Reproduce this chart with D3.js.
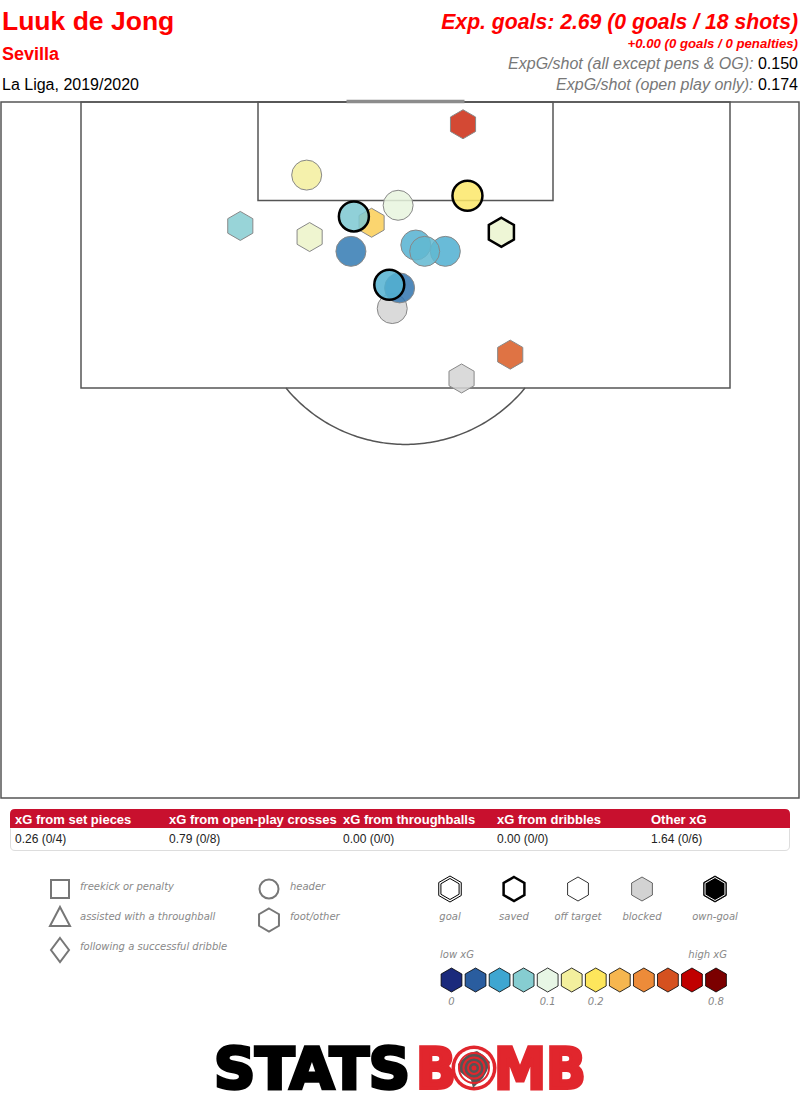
<!DOCTYPE html>
<html>
<head>
<meta charset="utf-8">
<script src="https://cdn.jsdelivr.net/npm/d3@7"></script>
<style>
  body { margin: 0; background: #fff; }
  svg { display: block; }
  .hdr { font-family: "Liberation Sans", Arial, sans-serif; }
  .lg { font-family: "DejaVu Sans", Verdana, sans-serif; font-style: italic; fill: #888; font-size: 10px; }
</style>
</head>
<body>
<svg id="chart" width="800" height="1110"></svg>
<script>
// shots, statsbomb yards (x = length toward goal at 120, y = width)
let shotX = [118.6, 115.4, 113.5, 112.2, 111.5, 112.4, 112.8, 114.1, 111.8, 110.6, 111.0, 110.6, 110.6, 107.0, 108.3, 108.5, 104.1, 102.6];
let shotY = [43.9, 33.3, 39.5, 28.8, 33.5, 37.7, 36.5, 44.2, 46.5, 36.3, 40.7, 42.7, 41.3, 39.1, 39.6, 38.9, 47.1, 43.8];
let shotXg = [0.62, 0.15, 0.105, 0.075, 0.12, 0.26, 0.072, 0.19, 0.115, 0.035, 0.058, 0.056, 0.062, 0.06, 0.033, 0.057, 0.54, 0.08];
let shotBody = ['foot', 'head', 'head', 'foot', 'foot', 'foot', 'head', 'head', 'foot', 'head', 'head', 'head', 'head', 'head', 'head', 'head', 'foot', 'foot'];
let shotOutcome = ['off', 'off', 'off', 'off', 'off', 'off', 'saved', 'saved', 'saved', 'off', 'off', 'off', 'off', 'blocked', 'off', 'saved', 'off', 'blocked'];

let xgStops = [0, 0.025, 0.05, 0.075, 0.1, 0.15, 0.2, 0.32, 0.44, 0.56, 0.68, 0.8];
let xgColors = ['#1b2a7c', '#2a5d9f', '#3ea6d1', '#86cdd1', '#e7f6e5', '#f3ef9d', '#fde65c', '#f6b64f', '#ed8b39', '#d5511f', '#c00000', '#7b0000'];
let tickIndex = [0, 4, 6, 11];
let tickLabel = ['0', '0.1', '0.2', '0.8'];

let tableHeads = ['xG from set pieces', 'xG from open-play crosses', 'xG from throughballs', 'xG from dribbles', 'Other xG'];
let tableValues = ['0.26 (0/4)', '0.79 (0/8)', '0.00 (0/0)', '0.00 (0/0)', '1.64 (0/6)'];

let outcomeNames = ['goal', 'saved', 'off target', 'blocked', 'own-goal'];
let shapeNames = ['freekick or penalty', 'assisted with a throughball', 'following a successful dribble', 'header', 'foot/other'];

let svg = d3.select('#chart');

let xS = d3.scaleLinear().domain([18, 62]).range([81, 730]);   // pitch width -> px
let yS = d3.scaleLinear().domain([120, 102]).range([102, 388]); // pitch length -> px
let color = d3.scaleLinear().domain(xgStops).range(xgColors).clamp(true);

let hexPath = function(cx, cy, r) {
  let pts = d3.range(6).map(function(i) {
    let a = Math.PI / 3 * i - Math.PI / 2;
    return [cx + r * Math.cos(a), cy + r * Math.sin(a)];
  });
  return 'M' + pts.join('L') + 'Z';
}

// ---- header
let hdr = svg.append('g').attr('class', 'hdr');
hdr.append('text').attr('x', 2).attr('y', 30).attr('fill', '#f00').attr('font-weight', 'bold').attr('font-size', 26.5).text('Luuk de Jong');
hdr.append('text').attr('x', 2).attr('y', 60).attr('fill', '#f00').attr('font-weight', 'bold').attr('font-size', 18).text('Sevilla');
hdr.append('text').attr('x', 2).attr('y', 90).attr('fill', '#000').attr('font-size', 16).text('La Liga, 2019/2020');
hdr.append('text').attr('x', 798).attr('y', 29).attr('text-anchor', 'end').attr('fill', '#f00').attr('font-weight', 'bold').attr('font-style', 'italic').attr('font-size', 21.2)
  .text('Exp. goals: 2.69 (0 goals / 18 shots)');
hdr.append('text').attr('x', 798).attr('y', 48).attr('text-anchor', 'end').attr('fill', '#f00').attr('font-weight', 'bold').attr('font-style', 'italic').attr('font-size', 13.2)
  .text('+0.00 (0 goals / 0 penalties)');
let l1 = hdr.append('text').attr('x', 798).attr('y', 69).attr('text-anchor', 'end').attr('font-size', 16);
l1.append('tspan').attr('fill', '#777').attr('font-style', 'italic').text('ExpG/shot (all except pens & OG): ');
l1.append('tspan').attr('fill', '#000').text('0.150');
let l2 = hdr.append('text').attr('x', 798).attr('y', 90).attr('text-anchor', 'end').attr('font-size', 16);
l2.append('tspan').attr('fill', '#777').attr('font-style', 'italic').text('ExpG/shot (open play only): ');
l2.append('tspan').attr('fill', '#000').text('0.174');

// ---- pitch
let pitch = svg.append('g').attr('fill', 'none').attr('stroke', '#555').attr('stroke-width', 1.5);
pitch.append('rect').attr('x', 1).attr('y', 102).attr('width', 798).attr('height', 696);
pitch.append('rect').attr('x', xS(18)).attr('y', yS(120)).attr('width', xS(62) - xS(18)).attr('height', yS(102) - yS(120));
pitch.append('rect').attr('x', xS(30)).attr('y', yS(120)).attr('width', xS(50) - xS(30)).attr('height', yS(113.8) - yS(120));
// D: only the part outside the box
let spot = 108.2, rx = 10.5, ry = 9.75;
let aMax = Math.acos((spot - 102) / ry);
let arcPts = d3.range(-aMax, aMax + 0.001, aMax / 50).map(function(a) {
  return [xS(40 + rx * Math.sin(a)), yS(spot - ry * Math.cos(a))];
});
pitch.append('path').attr('d', d3.line()(arcPts));
svg.append('line').attr('x1', xS(36)).attr('x2', xS(44)).attr('y1', yS(120) - 0.5).attr('y2', yS(120) - 0.5)
  .attr('stroke', '#8c8c8c').attr('stroke-width', 3.5);

// ---- shots
let shots = d3.range(shotX.length);
let sg = svg.append('g');
shots.forEach(function(i) {
  let cx = xS(shotY[i]), cy = yS(shotX[i]);
  let fill = shotOutcome[i] == 'blocked' ? '#d3d3d3' : color(shotXg[i]);
  let el;
  if (shotBody[i] == 'head') el = sg.append('circle').attr('cx', cx).attr('cy', cy).attr('r', 15);
  else el = sg.append('path').attr('d', hexPath(cx, cy, 14.5));
  el.attr('fill', fill).attr('fill-opacity', 0.85);
  if (shotOutcome[i] == 'saved') el.attr('stroke', '#000').attr('stroke-width', 2.5);
  else el.attr('stroke', '#888').attr('stroke-width', 1);
});

// ---- table
let colX = [15, 169, 343, 497, 651];
svg.append('path').attr('d', 'M10,828 V814 Q10,809 15,809 H785 Q790,809 790,814 V828 Z').attr('fill', '#c8102e');
svg.append('path').attr('d', 'M10.5,828.5 V846 Q10.5,850.5 15,850.5 H785 Q789.5,850.5 789.5,846 V828.5')
  .attr('fill', '#fff').attr('stroke', '#ddd').attr('stroke-width', 1);
let tbl = svg.append('g').attr('class', 'hdr');
tbl.selectAll('.th').data(tableHeads).join('text').attr('class', 'th')
  .attr('x', function(d, i) { return colX[i]; }).attr('y', 824)
  .attr('fill', '#fff').attr('font-weight', 'bold').attr('font-size', 13).text(function(d) { return d; });
tbl.selectAll('.td').data(tableValues).join('text').attr('class', 'td')
  .attr('x', function(d, i) { return colX[i]; }).attr('y', 843)
  .attr('fill', '#222').attr('font-size', 12).text(function(d) { return d; });

// ---- shape legend
let lg = svg.append('g');
let shp = lg.append('g').attr('fill', 'none').attr('stroke', '#777').attr('stroke-width', 2);
shp.append('rect').attr('x', 51).attr('y', 880).attr('width', 18).attr('height', 18);
shp.append('path').attr('d', 'M60,907 L70,926 L50,926 Z');
shp.append('path').attr('d', 'M60,938 L69,950 L60,962 L51,950 Z');
shp.append('circle').attr('cx', 269).attr('cy', 889).attr('r', 9.5);
shp.append('path').attr('d', hexPath(269, 920, 11.5));
let shapePos = [[80, 890], [80, 920], [80, 950], [290, 890], [290, 920]];
lg.selectAll('.sn').data(shapeNames).join('text').attr('class', 'lg sn')
  .attr('x', function(d, i) { return shapePos[i][0]; }).attr('y', function(d, i) { return shapePos[i][1]; })
  .text(function(d) { return d; });

// ---- outcome legend
let oX = [450, 514, 578, 642, 715];
let oc = lg.append('g');
oc.append('path').attr('d', hexPath(oX[0], 889, 13)).attr('fill', '#fff').attr('stroke', '#000').attr('stroke-width', 1);
oc.append('path').attr('d', hexPath(oX[0], 889, 10.5)).attr('fill', 'none').attr('stroke', '#000').attr('stroke-width', 1);
oc.append('path').attr('d', hexPath(oX[1], 889, 12)).attr('fill', '#fff').attr('stroke', '#000').attr('stroke-width', 2.5);
oc.append('path').attr('d', hexPath(oX[2], 889, 12)).attr('fill', '#fff').attr('stroke', '#000').attr('stroke-width', 0.8);
oc.append('path').attr('d', hexPath(oX[3], 889, 12)).attr('fill', '#d3d3d3').attr('stroke', '#444').attr('stroke-width', 0.8);
oc.append('path').attr('d', hexPath(oX[4], 889, 13)).attr('fill', '#000').attr('stroke', '#000').attr('stroke-width', 1);
oc.append('path').attr('d', hexPath(oX[4], 889, 11.5)).attr('fill', 'none').attr('stroke', '#fff').attr('stroke-width', 1);
lg.selectAll('.on').data(outcomeNames).join('text').attr('class', 'lg on')
  .attr('x', function(d, i) { return oX[i]; }).attr('y', 920).attr('text-anchor', 'middle')
  .text(function(d) { return d; });

// ---- xG colour legend
let cX = d3.scaleLinear().domain([0, xgColors.length - 1]).range([451.5, 716]);
lg.selectAll('.ch').data(xgColors).join('path').attr('class', 'ch')
  .attr('d', function(d, i) { return hexPath(cX(i), 980, 12); })
  .attr('fill', function(d) { return d; }).attr('stroke', '#000').attr('stroke-width', 0.8);
lg.append('text').attr('class', 'lg').attr('x', 440).attr('y', 958).text('low xG');
lg.append('text').attr('class', 'lg').attr('x', 727).attr('y', 958).attr('text-anchor', 'end').text('high xG');
lg.selectAll('.tk').data(tickIndex).join('text').attr('class', 'lg tk')
  .attr('x', function(d) { return cX(d); }).attr('y', 1005).attr('text-anchor', 'middle')
  .text(function(d, i) { return tickLabel[i]; });

// ---- logo
let logo = svg.append('g').attr('font-family', '"DejaVu Sans", sans-serif').attr('font-weight', 'bold').attr('font-size', 57);
logo.append('text').attr('x', 214).attr('y', 1089).attr('textLength', 196).attr('lengthAdjust', 'spacingAndGlyphs')
  .attr('fill', '#000').attr('stroke', '#000').attr('stroke-width', 3.5).text('STATS');
logo.append('text').attr('x', 416).attr('y', 1089).attr('textLength', 40).attr('lengthAdjust', 'spacingAndGlyphs')
  .attr('fill', '#e1262d').attr('stroke', '#e1262d').attr('stroke-width', 3.5).text('B');
logo.append('text').attr('x', 494).attr('y', 1089).attr('textLength', 92).attr('lengthAdjust', 'spacingAndGlyphs')
  .attr('fill', '#e1262d').attr('stroke', '#e1262d').attr('stroke-width', 3.5).text('MB');
let tg = logo.append('g').attr('transform', 'translate(474,1068)');
tg.append('circle').attr('r', 22.5).attr('fill', '#e1262d');
tg.append('circle').attr('r', 19).attr('fill', '#fff');
tg.append('path').attr('d', 'M-16,-4 L-10,-10 L-4,-15 L3,-17 L9,-13 L16,-6 L13,3 L9,10 L3,16 L-1,20 L-3,12 L-9,8 L-15,3 Z').attr('fill', '#555');
[15, 10.5, 6].forEach(function(r) {
  tg.append('circle').attr('r', r).attr('fill', 'none').attr('stroke', '#e1262d').attr('stroke-width', 2);
});
tg.append('circle').attr('r', 2.5).attr('fill', '#e1262d');
</script>
</body>
</html>
